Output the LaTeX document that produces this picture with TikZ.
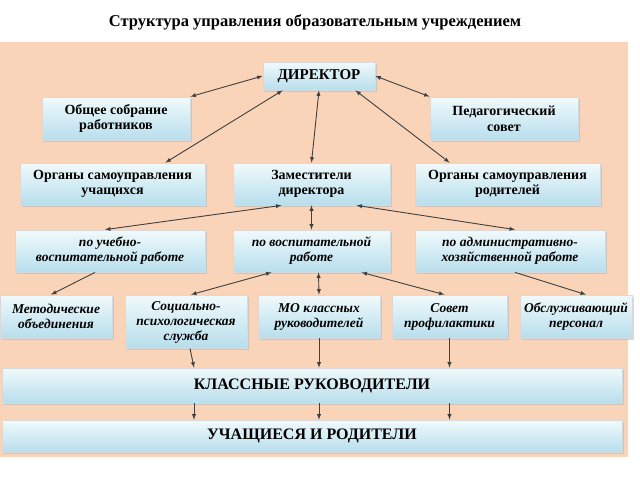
\documentclass[tikz,border=0pt]{standalone}
\usepackage{fontspec}
\setmainfont{Liberation Serif}
\usetikzlibrary{shadows}
\tikzset{every picture/.style={line width=0.75pt}}
\definecolor{panelc}{RGB}{249,212,184}
\definecolor{boxtop}{RGB}{240,250,252}
\definecolor{boxbot}{RGB}{184,222,236}
\tikzset{
  blk/.style={draw=white!70!gray, top color=boxtop, bottom color=boxbot,
    drop shadow={shadow xshift=1.5pt, shadow yshift=-1.5pt, fill=gray!60},
    align=center, inner sep=1pt, font=\fontsize{14}{15.5}\selectfont\bfseries},
  itblk/.style={blk, font=\fontsize{13.5}{15}\selectfont\bfseries\itshape},
  arr/.style={-latex, line width=0.9pt, draw=black!75},
  darr/.style={latex-latex, line width=0.9pt, draw=black!75}
}
\begin{document}
\begin{tikzpicture}[x=1pt,y=1pt,yscale=-1,xscale=1]
    \useasboundingbox (0,0) rectangle (640,480);
    \fill[white] (0,0) rectangle (640,480);
    
    % Title
    \node (title) at (315,22) {\fontsize{16.5}{18}\selectfont\bfseries Структура управления образовательным учреждением};
    % Panel
    \fill[panelc] (0,42) rectangle (628,457);
    
    % Level 1
    \node[blk, minimum width=112, minimum height=28, font=\fontsize{15}{16}\selectfont\bfseries] (dir) at (319,76) {ДИРЕКТОР};
    \node[blk, minimum width=148, minimum height=43] (sobr) at (116,118.5) {Общее собрание\\работников};
    \node[blk, minimum width=148, minimum height=43] (ped) at (504,118.5) {Педагогический\\совет};
    % Level 2
    \node[blk, minimum width=185, minimum height=42] (orguch) at (112.5,184) {Органы самоуправления\\учащихся};
    \node[blk, minimum width=157, minimum height=42] (zam) at (311.5,184) {Заместители\\директора};
    \node[blk, minimum width=185, minimum height=42] (orgrod) at (507.5,184) {Органы самоуправления\\родителей};
    % Level 3
    \node[itblk, minimum width=190, minimum height=42] (uvr) at (110,251) {по учебно-\\воспитательной работе};
    \node[itblk, minimum width=157, minimum height=42] (vr) at (311.5,251) {по воспитательной\\работе};
    \node[itblk, minimum width=190, minimum height=42] (ahr) at (510,251) {по административно-\\хозяйственной работе};
    % Level 4
    \node[itblk, minimum width=112, minimum height=43] (metod) at (56,316.5) {Методические\\объединения};
    \node[itblk, minimum width=122, minimum height=53, text depth=0pt] (soc) at (186,321.5) {Социально-\\психологическая\\служба};
    \node[itblk, minimum width=122, minimum height=43] (mo) at (319,316.5) {МО классных\\руководителей};
    \node[itblk, minimum width=115, minimum height=43] (sovet) at (449.5,316.5) {Совет\\профилактики};
    \node[itblk, minimum width=112, minimum height=43] (obsl) at (576,316.5) {Обслуживающий\\персонал};
    % Bottom rows
    \node[blk, minimum width=620, minimum height=35, font=\fontsize{16}{18}\selectfont\bfseries] (kl) at (312,385.5) {КЛАССНЫЕ РУКОВОДИТЕЛИ};
    \node[blk, minimum width=620, minimum height=32, font=\fontsize{16}{18}\selectfont\bfseries] (uch) at (312,436) {УЧАЩИЕСЯ И РОДИТЕЛИ};
    
    % Connectors
    \draw[darr] (dir.west) -- (sobr.north east);
    \draw[darr] (dir.east) -- (ped.north west);
    \draw[darr] ([xshift=20]dir.south west) -- ([xshift=-40]orguch.north east);
    \draw[darr] (dir.south) -- (zam.north);
    \draw[darr] ([xshift=-20]dir.south east) -- ([xshift=35]orgrod.north west);
    \draw[darr] ([xshift=-30]zam.south) -- ([xshift=-5]uvr.north);
    \draw[darr] (zam.south) -- (vr.north);
    \draw[darr] ([xshift=45]zam.south) -- ([xshift=5]ahr.north);
    \draw[arr] ([xshift=-15]uvr.south) -- ([xshift=-5]metod.north);
    \draw[darr] ([xshift=-40]vr.south) -- ([xshift=5]soc.north);
    \draw[darr] ([xshift=7]vr.south) -- (mo.north);
    \draw[darr] ([xshift=50]vr.south) -- ([xshift=-5]sovet.north);
    \draw[arr] ([xshift=5]ahr.south) -- ([xshift=10]obsl.north);
    \draw[arr] ([xshift=4]soc.south) -- ([xshift=-118]kl.north);
    \draw[arr] (mo.south) -- ([xshift=7]kl.north);
    \draw[arr] (sovet.south) -- ([xshift=137.5]kl.north);
    \draw[arr] ([xshift=-118]kl.south) -- ([xshift=-118]uch.north);
    \draw[arr] ([xshift=7]kl.south) -- ([xshift=7]uch.north);
    \draw[arr] ([xshift=137.5]kl.south) -- ([xshift=137.5]uch.north);
    
\end{tikzpicture}
\end{document}
